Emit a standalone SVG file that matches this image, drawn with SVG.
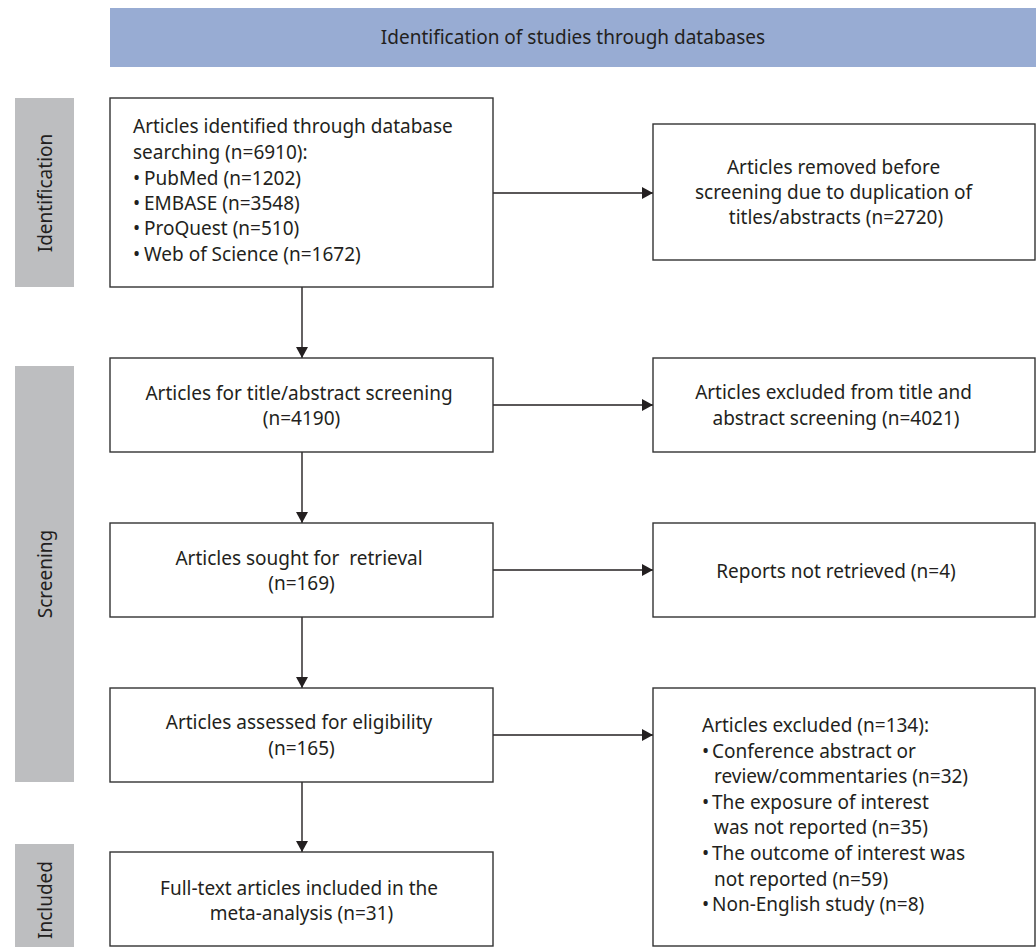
<svg xmlns="http://www.w3.org/2000/svg" width="1036" height="947" viewBox="0 0 1036 947">
<defs>
<style>
.box{fill:#fff;stroke:#333;stroke-width:1.4}
.side{fill:#bdbec0}
.t{font-family:"Noto Sans","Open Sans",sans-serif;font-size:19px;fill:#231f20}
.c{text-anchor:middle}
.conn{stroke:#231f20;stroke-width:1.4;fill:none}
</style>
<marker id="ah" viewBox="0 0 11 12" refX="11" refY="6" markerWidth="11" markerHeight="12" markerUnits="userSpaceOnUse" orient="auto">
<path d="M0,0 L11,6 L0,12 Z" fill="#231f20"/>
</marker>
</defs>
<rect width="1036" height="947" fill="#fff"/>
<g id="header">
<rect x="110" y="8" width="926" height="59" fill="#98acd3"/>
<text class="t c" x="573" y="44">Identification of studies through databases</text>
</g>
<g id="label-identification">
<rect class="side" x="15" y="98" width="59" height="189"/>
<text class="t c" transform="translate(52,193) rotate(-90)">Identification</text>
</g>
<g id="label-screening">
<rect class="side" x="15" y="366" width="59" height="416"/>
<text class="t c" transform="translate(52,574) rotate(-90)">Screening</text>
</g>
<g id="label-included">
<rect class="side" x="15" y="844" width="59" height="103"/>
<text class="t c" transform="translate(52,900) rotate(-90)">Included</text>
</g>
<g id="connectors">
<line class="conn" x1="493" y1="193" x2="653" y2="193" marker-end="url(#ah)"/>
<line class="conn" x1="302" y1="287" x2="302" y2="358" marker-end="url(#ah)"/>
<line class="conn" x1="493" y1="405" x2="653" y2="405" marker-end="url(#ah)"/>
<line class="conn" x1="302" y1="452" x2="302" y2="523" marker-end="url(#ah)"/>
<line class="conn" x1="493" y1="570" x2="653" y2="570" marker-end="url(#ah)"/>
<line class="conn" x1="302" y1="617" x2="302" y2="688" marker-end="url(#ah)"/>
<line class="conn" x1="493" y1="735" x2="653" y2="735" marker-end="url(#ah)"/>
<line class="conn" x1="302" y1="782" x2="302" y2="852" marker-end="url(#ah)"/>
</g>
<g id="identified">
<rect class="box" x="110" y="98" width="383" height="189"/>
<text class="t">
<tspan x="133" y="133">Articles identified through database</tspan>
<tspan x="133" y="159">searching (n=6910):</tspan>
<tspan x="133" y="185">•</tspan><tspan x="144" y="185">PubMed (n=1202)</tspan>
<tspan x="133" y="210">•</tspan><tspan x="144" y="210">EMBASE (n=3548)</tspan>
<tspan x="133" y="235">•</tspan><tspan x="144" y="235">ProQuest (n=510)</tspan>
<tspan x="133" y="261">•</tspan><tspan x="144" y="261">Web of Science (n=1672)</tspan>
</text>
</g>
<g id="removed">
<rect class="box" x="653" y="124" width="382" height="136"/>
<text class="t c">
<tspan x="836" y="174">Articles removed before</tspan>
<tspan x="836" y="199">screening due to duplication of</tspan>
<tspan x="836" y="224">titles/abstracts (n=2720)</tspan>
</text>
</g>
<g id="screened">
<rect class="box" x="110" y="358" width="383" height="94"/>
<text class="t c">
<tspan x="301.5" y="400">Articles for title/abstract screening</tspan>
<tspan x="301.5" y="425">(n=4190)</tspan>
</text>
</g>
<g id="excluded-screening">
<rect class="box" x="653" y="358" width="382" height="94"/>
<text class="t c">
<tspan x="836" y="399">Articles excluded from title and</tspan>
<tspan x="836" y="425">abstract screening (n=4021)</tspan>
</text>
</g>
<g id="sought">
<rect class="box" x="110" y="523" width="383" height="94"/>
<text class="t c">
<tspan x="301.5" y="565">Articles sought for&#160; retrieval</tspan>
<tspan x="301.5" y="590">(n=169)</tspan>
</text>
</g>
<g id="not-retrieved">
<rect class="box" x="653" y="523" width="382" height="94"/>
<text class="t c" x="836" y="578">Reports not retrieved (n=4)</text>
</g>
<g id="assessed">
<rect class="box" x="110" y="688" width="383" height="94"/>
<text class="t c">
<tspan x="301.5" y="729">Articles assessed for eligibility</tspan>
<tspan x="301.5" y="755">(n=165)</tspan>
</text>
</g>
<g id="excluded-eligibility">
<rect class="box" x="653" y="688" width="382" height="258"/>
<text class="t">
<tspan x="702" y="732">Articles excluded (n=134):</tspan>
<tspan x="702" y="758">•</tspan><tspan x="712" y="758">Conference abstract or</tspan>
<tspan x="714" y="783">review/commentaries (n=32)</tspan>
<tspan x="702" y="809">•</tspan><tspan x="712" y="809">The exposure of interest</tspan>
<tspan x="714" y="834">was not reported (n=35)</tspan>
<tspan x="702" y="860">•</tspan><tspan x="712" y="860">The outcome of interest was</tspan>
<tspan x="714" y="886">not reported (n=59)</tspan>
<tspan x="702" y="911">•</tspan><tspan x="712" y="911">Non-English study (n=8)</tspan>
</text>
</g>
<g id="included">
<rect class="box" x="110" y="852" width="383" height="94"/>
<text class="t c">
<tspan x="301.5" y="895">Full-text articles included in the</tspan>
<tspan x="301.5" y="920">meta-analysis (n=31)</tspan>
</text>
</g>
</svg>
